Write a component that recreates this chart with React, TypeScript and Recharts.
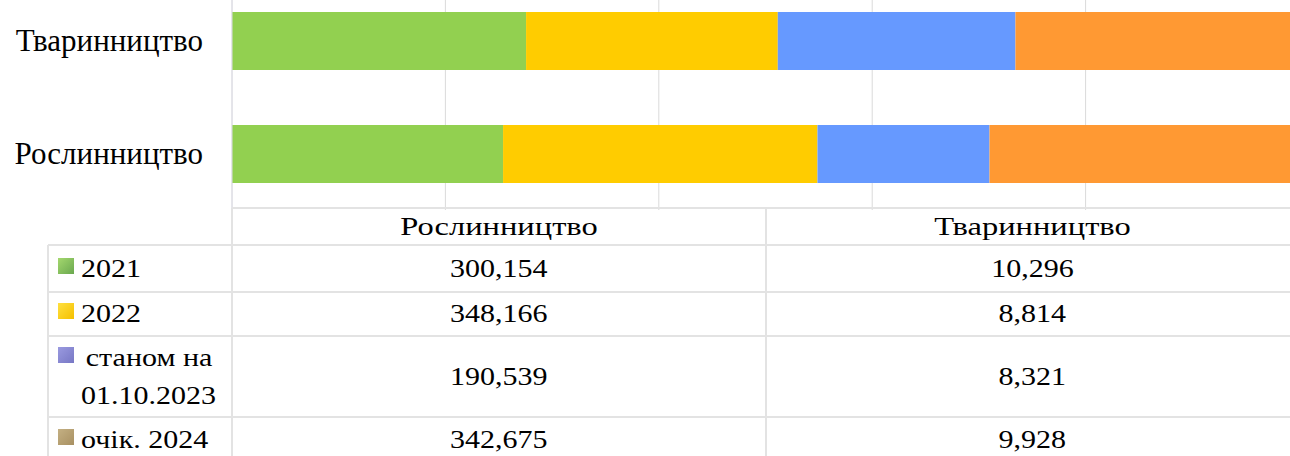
import React from "react";
import { BarChart, Bar, XAxis, YAxis, CartesianGrid } from "recharts";

const categories = ["Рослинництво", "Тваринництво"];
const seriesNames = ["2021", "2022", "станом на 01.10.2023", "очік. 2024"];
const legendLines = [["2021"], ["2022"], ["станом на", "01.10.2023"], ["очік. 2024"]];
const values2021 = [300.154, 10.296];
const values2022 = [348.166, 8.814];
const values2023 = [190.539, 8.321];
const values2024 = [342.675, 9.928];
const xTicks = [0, 0.2, 0.4, 0.6, 0.8, 1];

const barColors = ["#92D050", "#FFCC00", "#6699FF", "#FF9933"];
const swatchGradients = [
  "linear-gradient(135deg, #a4d86e, #6aa84f)",
  "linear-gradient(135deg, #ffe040, #f5c000)",
  "linear-gradient(135deg, #9a9ae0, #7777c4)",
  "linear-gradient(135deg, #c4b083, #a89062)",
];

const seriesValues = [values2021, values2022, values2023, values2024];
const keys = ["s2021", "s2022", "s2023", "s2024"];

const data = categories.map((c, i) => {
  const row: Record<string, any> = { name: c };
  keys.forEach((k, j) => {
    row[k] = seriesValues[j][i];
  });
  return row;
});

const fmt = (v: number) => v.toFixed(3).replace(".", ",");

const FONT = "'Liberation Serif', 'DejaVu Serif', 'Noto Serif', 'Times New Roman', Times, serif";
const LINE = "#e3e3e3";

const CatTick = (props: any) => {
  const { x, y, payload } = props;
  return (
    <text x={x} y={y} dy="0.35em" textAnchor="end" style={{ fontFamily: FONT }} fontSize={31} fill="#000">
      {payload.value}
    </text>
  );
};

// table layout
const rowEdges = [208, 245, 292, 336, 417, 463];
const colEdges = [48, 232, 766, 1299];
const TFS = 25;
const STRETCH = 1.2;
const HEAD_STRETCH = 1.3;

export default function App() {
  return (
    <div
      style={{
        position: "fixed",
        left: 0,
        top: 0,
        width: 1290,
        height: 456,
        overflow: "hidden",
        background: "#fff",
        fontFamily: FONT,
      }}
    >
      <div style={{ position: "absolute", left: 0, top: -16 }}>
        <BarChart
          width={1299}
          height={226}
          data={data}
          layout="vertical"
          stackOffset="expand"
          barSize={58}
          margin={{ top: 0, right: 0, bottom: 0, left: 0 }}
        >
          <CartesianGrid horizontal={false} vertical={true} stroke="#dadada" />
          <XAxis type="number" domain={[0, 1]} ticks={xTicks} hide />
          <YAxis
            type="category"
            dataKey="name"
            reversed
            width={232}
            axisLine={{ stroke: "#dcdce6" }}
            tickLine={false}
            tickSize={0}
            tickMargin={29}
            tick={<CatTick />}
          />
          {keys.map((k, j) => (
            <Bar
              key={k}
              dataKey={k}
              name={seriesNames[j]}
              stackId="a"
              fill={barColors[j]}
              isAnimationActive={false}
            />
          ))}
        </BarChart>
      </div>

      {/* table lines */}
      <div style={{ position: "absolute", left: colEdges[1], top: rowEdges[0] - 1, width: 1290 - colEdges[1], height: 2, background: LINE }} />
      {rowEdges.slice(1).map((y, i) => (
        <div key={"h" + i} style={{ position: "absolute", left: colEdges[0], top: y - 1, width: 1290 - colEdges[0], height: 2, background: LINE }} />
      ))}
      <div style={{ position: "absolute", left: colEdges[0] - 1, top: rowEdges[1], width: 2, height: 456 - rowEdges[1], background: LINE }} />
      <div style={{ position: "absolute", left: colEdges[1] - 1, top: rowEdges[0], width: 2, height: 456 - rowEdges[0], background: LINE }} />
      <div style={{ position: "absolute", left: colEdges[2] - 1, top: rowEdges[0], width: 2, height: 456 - rowEdges[0], background: LINE }} />

      {/* header */}
      {categories.map((c, ci) => (
        <div
          key={"hd" + ci}
          style={{
            position: "absolute",
            left: colEdges[ci + 1],
            width: colEdges[ci + 2] - colEdges[ci + 1],
            top: rowEdges[0],
            height: rowEdges[1] - rowEdges[0],
            display: "flex",
            alignItems: "center",
            justifyContent: "center",
            fontFamily: FONT,
            fontSize: TFS,
            color: "#000",
          }}
        >
          <span style={{ display: "inline-block", transform: `scaleX(${HEAD_STRETCH})`, whiteSpace: "nowrap" }}>{c}</span>
        </div>
      ))}

      {/* rows */}
      {seriesNames.map((s, si) => (
        <React.Fragment key={"r" + si}>
          <div
            style={{
              position: "absolute",
              left: colEdges[0] + 10,
              top: rowEdges[si + 1],
              height: rowEdges[si + 2] - rowEdges[si + 1],
              display: "flex",
              alignItems: "center",
              fontFamily: FONT,
              fontSize: TFS,
              color: "#000",
            }}
          >
            <div style={{ display: "flex", alignItems: "flex-start" }}>
              <div
                style={{
                  width: 16,
                  height: 16,
                  marginTop: 8,
                  marginRight: 7,
                  background: swatchGradients[si],
                  flex: "none",
                }}
              />
              <div style={{ transform: `scaleX(${STRETCH})`, transformOrigin: "left center", lineHeight: "38px" }}>
                {legendLines[si].map((l, li) => (
                  <div key={li} style={{ whiteSpace: "nowrap", paddingLeft: li === 0 && legendLines[si].length > 1 ? 4 : 0 }}>
                    {l}
                  </div>
                ))}
              </div>
            </div>
          </div>
          {categories.map((c, ci) => (
            <div
              key={"v" + si + ci}
              style={{
                position: "absolute",
                left: colEdges[ci + 1],
                width: colEdges[ci + 2] - colEdges[ci + 1],
                top: rowEdges[si + 1],
                height: rowEdges[si + 2] - rowEdges[si + 1],
                display: "flex",
                alignItems: "center",
                justifyContent: "center",
                fontFamily: FONT,
                fontSize: TFS,
                color: "#000",
              }}
            >
              <span style={{ display: "inline-block", transform: `scaleX(${STRETCH})`, whiteSpace: "nowrap" }}>
                {fmt(seriesValues[si][ci])}
              </span>
            </div>
          ))}
        </React.Fragment>
      ))}
    </div>
  );
}
